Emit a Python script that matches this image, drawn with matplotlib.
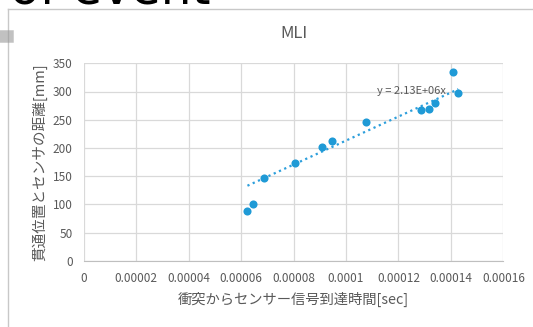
import numpy as np
import matplotlib.pyplot as plt
from matplotlib.lines import Line2D

plt.rcParams['font.family'] = ['Noto Sans CJK JP', 'DejaVu Sans']

# data
time_sec = [6.24e-5, 6.47e-5, 6.89e-5, 8.05e-5, 9.10e-5, 9.46e-5,
            1.076e-4, 1.286e-4, 1.318e-4, 1.340e-4, 1.408e-4, 1.428e-4]
distance_mm = [89, 101, 146, 174, 202, 213, 246, 267, 269, 280, 334, 298]
slope = 2.13e6
x_ticks = [0, 0.00002, 0.00004, 0.00006, 0.00008, 0.0001, 0.00012, 0.00014, 0.00016]
x_tick_labels = ['0', '0.00002', '0.00004', '0.00006', '0.00008', '0.0001',
                 '0.00012', '0.00014', '0.00016']
y_ticks = [0, 50, 100, 150, 200, 250, 300, 350]

W, H = 533, 327
fig = plt.figure(figsize=(W / 100, H / 100), dpi=100)
fig.patch.set_facecolor('white')

# slide frame bits around the chart
fig.text(10 / W, 1 - 3 / H, 'of event', fontsize=35, color='black',
         va='baseline', ha='left', family='DejaVu Sans')
fig.add_artist(Line2D([8 / W, 1], [1 - 9 / H, 1 - 9 / H], color='#c8c8c8', lw=1))
fig.add_artist(Line2D([8 / W, 8 / W], [0, 1 - 9 / H], color='#c8c8c8', lw=1))
fig.add_artist(Line2D([0, 7 / W], [1 - 36 / H, 1 - 36 / H], color='#999999', lw=9, alpha=0.6))

ax = fig.add_axes([83.8 / W, 1 - 260.7 / H, (503.4 - 83.8) / W, (260.7 - 63.3) / H])
grey = '#d9d9d9'
text_grey = '#595959'

xs = np.array([min(time_sec), max(time_sec)])
ax.plot(xs, slope * xs, color='#2d9fdc', lw=1.6, linestyle=(0, (1, 1.6)), zorder=2)
ax.scatter(time_sec, distance_mm, s=34, color='#1f9ad6', zorder=3, linewidths=0)
ax.text(1.381e-4, 301, 'y = 2.13E+06x', fontsize=8, color=text_grey,
        ha='right', va='center', zorder=4)

ax.set_xlim(0, 0.00016)
ax.set_ylim(0, 350)
ax.set_xticks(x_ticks)
ax.set_xticklabels(x_tick_labels)
ax.set_yticks(y_ticks)
ax.grid(True, color=grey, lw=0.9)
ax.set_axisbelow(True)
for side in ['top', 'right', 'left']:
    ax.spines[side].set_visible(False)
ax.spines['bottom'].set_color('#bfbfbf')
ax.tick_params(length=0, labelsize=8.5, colors=text_grey, pad=8)

ax.set_title('MLI', fontsize=12, color=text_grey, pad=18)
ax.set_xlabel('衝突からセンサー信号到達時間[sec]', fontsize=10.3, color=text_grey, labelpad=5)
ax.set_ylabel('貫通位置とセンサの距離[mm]', fontsize=10.5, color=text_grey, labelpad=4)

fig.savefig('out.png', dpi=100)
